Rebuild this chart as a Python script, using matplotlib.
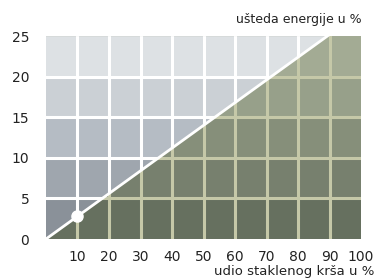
import matplotlib
matplotlib.use("Agg")
import matplotlib.pyplot as plt
from matplotlib.patches import Polygon

# data
cullet_pct = [0, 100]
energy_saving = [0, 28]
point_x = [10]
point_y = [2.8]
x_ticks = [10, 20, 30, 40, 50, 60, 70, 80, 90, 100]
y_ticks = [0, 5, 10, 15, 20, 25]
row_edges = [0, 5, 10, 15, 20, 25]
grey_rows = ["#8a9199", "#9fa6ae", "#b5bcc4", "#cbd0d5", "#dde1e4"]
green_rows = ["#66705f", "#77806e", "#868f7a", "#97a08a", "#a3ab94"]

plt.rcParams['font.family'] = ['DejaVu Sans']
fig = plt.figure(figsize=(3.77, 2.8), dpi=100)
ax = fig.add_axes([0.122, 0.1464, 0.8356, 0.7246])
ax.set_xlim(0, 100)
ax.set_ylim(0, 25)

slope = energy_saving[1] / cullet_pct[1]
xtop = 25 / slope
clip = Polygon([(0, 0), (xtop, 25), (0, 25)], closed=True, transform=ax.transData,
               facecolor='none', edgecolor='none')
ax.add_patch(clip)

gl = 2.2
for i in range(5):
    ax.axhspan(row_edges[i], row_edges[i + 1], color=green_rows[i], lw=0, zorder=1)
    s = ax.axhspan(row_edges[i], row_edges[i + 1], color=grey_rows[i], lw=0, zorder=2)
    s.set_clip_path(clip)
for xv in x_ticks[:-1]:
    ax.axvline(xv, color="#c5c8a8", lw=gl, zorder=1.5)
    l = ax.axvline(xv, color="white", lw=gl, zorder=2.5)
    l.set_clip_path(clip)
for yv in y_ticks[1:-1]:
    ax.axhline(yv, color="#c5c8a8", lw=gl, zorder=1.5)
    l = ax.axhline(yv, color="white", lw=gl, zorder=2.5)
    l.set_clip_path(clip)

ax.plot(cullet_pct, energy_saving, color="white", lw=2, zorder=3, solid_capstyle='butt')
ax.plot(point_x, point_y, 'o', color="white", ms=8, zorder=4)

for sp in ax.spines.values():
    sp.set_visible(False)
ax.set_xticks(x_ticks)
ax.set_yticks(y_ticks)
ax.tick_params(length=0, labelsize=10, colors="#222222")
ax.tick_params(axis='x', pad=8)
ax.tick_params(axis='y', pad=12)

fig.text(0.958, 0.93, "ušteda energije u %", ha='right', va='center', fontsize=9, color="#222222")
fig.text(0.992, 0.006, "udio staklenog krša u %", ha='right', va='bottom', fontsize=9.5, color="#222222")

fig.savefig("out.png", dpi=100)
